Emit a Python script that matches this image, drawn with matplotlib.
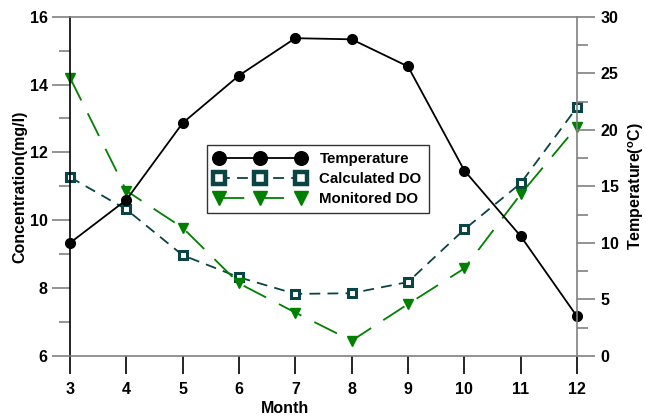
import matplotlib
matplotlib.use("Agg")
from matplotlib import pyplot as plt
from matplotlib.ticker import MultipleLocator

plt.rcParams['font.family'] = ['Liberation Sans', 'DejaVu Sans']
plt.rcParams['font.weight'] = 'bold'
plt.rcParams['mathtext.fontset'] = 'custom'
plt.rcParams['mathtext.rm'] = 'Liberation Sans:bold'

# values
months = [3, 4, 5, 6, 7, 8, 9, 10, 11, 12]
temperature = [10.0, 13.8, 20.6, 24.8, 28.1, 28.0, 25.6, 16.4, 10.6, 3.5]
calculatedDO = [11.27, 10.32, 8.97, 8.32, 7.83, 7.85, 8.18, 9.73, 11.09, 13.33]
monitoredDO = [14.2, 10.87, 9.78, 8.14, 7.28, 6.45, 7.53, 8.58, 10.77, 12.76]

gray = '#808080'
teal = '#0b4444'
green = '#008000'

fig = plt.figure(figsize=(6.46, 4.19), dpi=100)
ax = fig.add_axes([70 / 646, 1 - 356 / 419, 507 / 646, 339.3 / 419])
ax2 = ax.twinx()

# DO series on left axis
lCalc, = ax.plot(months, calculatedDO, color=teal, linestyle=(0, (6, 4)), linewidth=1.3,
                 marker='s', markersize=6, markerfacecolor='white',
                 markeredgecolor=teal, markeredgewidth=2.2, clip_on=False)
lMon, = ax.plot(months, monitoredDO, color=green, linestyle=(0, (14, 8)), linewidth=1.3,
                marker='v', markersize=7, markerfacecolor=green,
                markeredgecolor=green, clip_on=False)
# temperature on right axis
lTemp, = ax2.plot(months, temperature, color='black', linewidth=1.3,
                  marker='o', markersize=7, clip_on=False)

ax.set_xlim(3, 12)
ax.set_ylim(6, 16)
ax2.set_ylim(0, 30)

ax.xaxis.set_major_locator(MultipleLocator(1))
ax.yaxis.set_major_locator(MultipleLocator(2))
ax.yaxis.set_minor_locator(MultipleLocator(1))
ax2.yaxis.set_major_locator(MultipleLocator(5))
ax2.yaxis.set_minor_locator(MultipleLocator(2.5))

ax.tick_params(axis='x', direction='out', length=13, width=1.2, color='black',
               labelsize=11.5, pad=6)
ax.tick_params(axis='y', which='major', direction='out', length=13, width=1.2,
               color=gray, labelsize=11.5, pad=3)
ax.tick_params(axis='y', which='minor', direction='out', length=8, width=1.2, color=gray)
ax2.tick_params(axis='y', which='major', direction='out', length=13, width=1.2,
                color=gray, labelsize=11.5, pad=4)
ax2.tick_params(axis='y', which='minor', direction='out', length=8, width=1.2, color=gray)

for side in ['top', 'bottom']:
    ax.spines[side].set_color(gray)
    ax.spines[side].set_linewidth(1.2)
ax.spines['left'].set_color('black')
ax.spines['left'].set_linewidth(1.2)
ax.spines['right'].set_visible(False)
for side in ['left', 'top', 'bottom']:
    ax2.spines[side].set_visible(False)
ax2.spines['right'].set_color(gray)
ax2.spines['right'].set_linewidth(1.2)

ax.set_xlabel('Month', fontsize=11.5, fontweight='bold')
ax.xaxis.set_label_coords(0.424, -0.132)
ax.set_ylabel('Concentration(mg/l)', fontsize=11.5, fontweight='bold')
ax.yaxis.set_label_coords(-0.085, 0.5)
ax2.set_ylabel(r'Temperature($^{\rm o}$C)', fontsize=11.5, fontweight='bold')
ax2.yaxis.set_label_coords(1.097, 0.5)

leg = ax2.legend([lTemp, lCalc, lMon], ['Temperature', 'Calculated DO', 'Monitored DO'],
                 loc='upper left', bbox_to_anchor=(0.270, 0.622), borderaxespad=0,
                 numpoints=3, markerscale=1.4, handlelength=6.1, handletextpad=0.9,
                 fontsize=10.8, frameon=True, fancybox=False, labelspacing=0.38,
                 borderpad=0.5)
leg.get_frame().set_edgecolor('black')
leg.get_frame().set_linewidth(1.0)
leg.legend_handles[1].set_markeredgewidth(3.2)

plt.savefig('out.png', dpi=100)
